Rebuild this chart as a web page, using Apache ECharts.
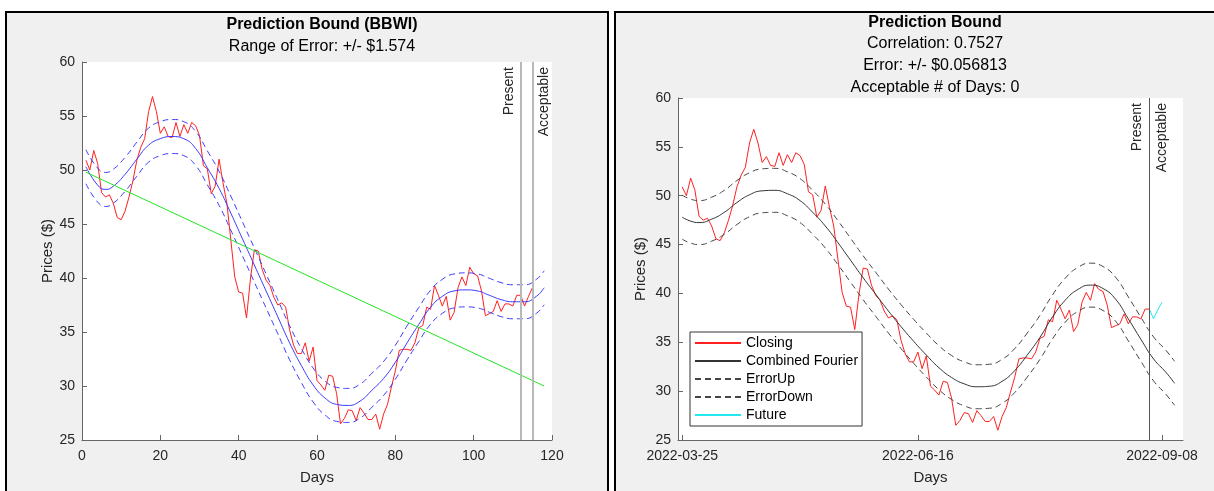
<!doctype html>
<html>
<head>
<meta charset="UTF-8">
<title>Prediction Bound (BBWI)</title>
<script src="https://cdn.jsdelivr.net/npm/echarts@6/dist/echarts.min.js"></script>
<style>
  body { margin: 0; background: #fff; }
  .panel { position: absolute; background: #f0f0f0; border: 2px solid #000; border-bottom: none; }
  #p1 { left: 5px; top: 11px; width: 600px; height: 480px; }
  #p2 { left: 614px; top: 11px; width: 600px; height: 480px; border-right: none; }
  #chart { position: absolute; left: 0; top: 0; width: 1214px; height: 491px; }
</style>
</head>
<body>
<div class="panel" id="p1"></div>
<div class="panel" id="p2"></div>
<div id="chart"></div>
<script>
// closing prices, one per trading day (day 1 .. 115)
var closing = [
  50.9, 50.0, 51.8, 50.6, 47.9, 47.5, 47.7, 46.9, 45.6, 45.4,
  46.2, 47.5, 49.0, 50.9, 52.1, 52.9, 55.4, 56.8, 55.4, 53.4,
  54.0, 53.1, 53.0, 54.4, 53.1, 54.2, 53.4, 54.4, 54.1, 53.2,
  50.4, 50.1, 47.8, 48.5, 51.0, 48.8, 46.9, 43.5, 40.1, 38.7,
  38.6, 36.3, 39.9, 42.6, 42.5, 40.8, 39.8, 39.3, 38.2, 37.5,
  37.7, 37.3, 35.2, 33.8, 33.0, 33.0, 34.0, 32.3, 33.6, 30.5,
  30.1, 29.6, 31.0, 30.9, 29.3, 26.5, 27.0, 27.8, 27.7, 26.8,
  28.0, 27.5, 26.9, 26.9, 27.4, 26.0, 27.4, 28.3, 29.9, 31.4,
  33.3, 33.4, 33.4, 33.3, 34.0, 35.4, 35.6, 37.3, 37.1, 39.3,
  38.4, 37.4, 38.3, 36.1, 36.8, 39.1, 40.1, 39.3, 41.0, 40.4,
  40.2, 38.8, 36.5, 36.7, 36.9, 37.9, 36.9, 37.6, 37.6, 37.4,
  38.4, 38.4, 37.4, 38.3, 39.1
];
var presentDay = 112;
var acceptableDay = 115;

// left panel: Fourier fit
var leftFitDays = [1, 4, 6, 8, 11, 14, 17, 20, 23, 26, 29, 32, 35, 38, 41, 44, 47, 50, 53, 56,
  59, 62, 65, 68, 71, 74, 77, 80, 83, 86, 89, 92, 95, 98, 101, 104, 107, 110, 113, 116, 118];
var leftFit = [50.3, 48.6, 48.2, 48.5, 49.6, 51.0, 52.3, 52.9, 53.1, 52.9, 52.0, 50.2, 48.3, 46.0, 43.6, 41.2, 38.8, 36.4, 34.0, 31.9,
  30.1, 28.9, 28.3, 28.2, 28.6, 29.6, 30.7, 32.2, 34.0, 35.7, 37.3, 38.3, 38.8, 38.9, 38.8, 38.4, 38.0, 37.8, 37.8, 38.3, 39.1];
var leftError = 1.574;
var trendDays = [1, 118];
var trend = [49.8, 30.0];

// right panel: combined Fourier fit
var rightFitDays = [1, 3, 5, 8, 11, 14, 17, 20, 23, 26, 29, 32, 35, 38, 41, 44, 47, 50, 53, 56,
  59, 62, 65, 68, 71, 74, 77, 80, 83, 86, 89, 92, 95, 98, 101, 104, 107, 110, 113, 116, 118];
var rightFit = [47.8, 47.4, 47.25, 47.6, 48.3, 49.3, 50.1, 50.5, 50.55, 50.2, 49.5, 48.3, 46.9, 45.2, 43.4, 41.6, 39.9, 38.2, 36.6, 35.1,
  33.7, 32.4, 31.4, 30.75, 30.45, 30.5, 31.0, 32.1, 33.7, 35.5, 37.6, 39.3, 40.4, 40.85, 40.5, 39.4, 37.4, 35.3, 33.3, 31.9, 30.8];
var rightBand = 2.25;
var dateTickDays = [1, 57, 115];
var dateTickLabels = ['2022-03-25', '2022-06-16', '2022-09-08'];

function pairs(xs, ys, shift) {
  var out = [];
  for (var i = 0; i < xs.length; i++) out.push([xs[i], ys[i] + (shift || 0)]);
  return out;
}
var closingPts = closing.map(function (v, i) { return [i + 1, v]; });

var font = 'Liberation Sans, Arial, sans-serif';
var ink = '#262626';

function yAxis(idx, gap) {
  return {
    gridIndex: idx, type: 'value', min: 25, max: 60, interval: 5,
    name: 'Prices ($)', nameLocation: 'middle', nameGap: gap,
    nameTextStyle: { color: ink, fontSize: 15, fontFamily: font },
    axisLine: { show: true, lineStyle: { color: '#666' } },
    axisTick: { show: true, inside: true, length: 5, lineStyle: { color: '#666' } },
    axisLabel: { color: ink, fontSize: 14, fontFamily: font, margin: 7 },
    splitLine: { show: false }
  };
}

var option = {
  animation: false,
  textStyle: { fontFamily: font },
  title: [{
    text: 'Prediction Bound (BBWI)', subtext: 'Range of Error: +/- $1.574',
    left: 317, textAlign: 'center', top: 12, itemGap: 6,
    textStyle: { fontSize: 16, fontWeight: 'bold', color: '#000', fontFamily: font },
    subtextStyle: { fontSize: 16, color: '#000', fontFamily: font }
  }, {
    text: 'Prediction Bound',
    subtext: 'Correlation: 0.7527\nError: +/- $0.056813\nAcceptable # of Days: 0',
    left: 930, textAlign: 'center', top: 10, itemGap: 2,
    textStyle: { fontSize: 16, fontWeight: 'bold', color: '#000', fontFamily: font },
    subtextStyle: { fontSize: 16, color: '#000', fontFamily: font, lineHeight: 22 }
  }],
  legend: {
    data: ['Closing', 'Combined Fourier', 'ErrorUp', 'ErrorDown', 'Future'],
    orient: 'vertical', left: 690, top: 332,
    itemWidth: 46, itemHeight: 13, itemGap: 4, padding: [4, 4, 4, 4],
    backgroundColor: '#fff', borderColor: '#333', borderWidth: 1,
    itemStyle: { opacity: 0 },
    textStyle: { fontSize: 14, color: '#000', fontFamily: font, lineHeight: 14 }
  },
  grid: [
    { left: 82, top: 62, width: 470, height: 378, show: true, backgroundColor: '#fff', borderWidth: 0 },
    { left: 678, top: 98, width: 505, height: 342, show: true, backgroundColor: '#fff', borderWidth: 0 }
  ],
  xAxis: [{
    gridIndex: 0, type: 'value', min: 0, max: 120, interval: 20,
    name: 'Days', nameLocation: 'middle', nameGap: 30,
    nameTextStyle: { color: ink, fontSize: 15, fontFamily: font },
    axisLine: { lineStyle: { color: '#666' } },
    axisTick: { inside: true, length: 5, lineStyle: { color: '#666' } },
    axisLabel: { color: ink, fontSize: 14, fontFamily: font, margin: 9 },
    splitLine: { show: false }
  }, {
    gridIndex: 1, type: 'value', min: 0, max: 120,
    name: 'Days', nameLocation: 'middle', nameGap: 30,
    nameTextStyle: { color: ink, fontSize: 15, fontFamily: font },
    axisLine: { lineStyle: { color: '#666' } },
    axisTick: { inside: true, length: 5, customValues: dateTickDays, lineStyle: { color: '#666' } },
    axisLabel: {
      color: ink, fontSize: 14, fontFamily: font, margin: 9, customValues: dateTickDays,
      formatter: function (v) { return dateTickLabels[dateTickDays.indexOf(v)]; }
    },
    splitLine: { show: false }
  }],
  yAxis: [yAxis(0, 27), yAxis(1, 30)],
  series: [
    {
      name: 'Closing L', type: 'line', xAxisIndex: 0, yAxisIndex: 0, data: closingPts,
      symbol: 'none', lineStyle: { color: '#ff2020', width: 1 },
      markLine: {
        silent: true, symbol: 'none',
        lineStyle: { color: '#b8b8b8', width: 2, type: 'solid' },
        label: { color: ink, fontSize: 14, fontFamily: font },
        data: [
          { xAxis: presentDay, label: { formatter: 'Present', position: 'insideEndTop' } },
          { xAxis: acceptableDay, label: { formatter: 'Acceptable', position: 'insideEndBottom' } }
        ]
      }
    },
    { name: 'Fourier L', type: 'line', xAxisIndex: 0, yAxisIndex: 0, data: pairs(leftFitDays, leftFit),
      smooth: true, symbol: 'none', lineStyle: { color: '#3a3aff', width: 1 } },
    { name: 'Up L', type: 'line', xAxisIndex: 0, yAxisIndex: 0, data: pairs(leftFitDays, leftFit, leftError),
      smooth: true, symbol: 'none', lineStyle: { color: '#3a3aff', width: 1, type: [6, 4] } },
    { name: 'Down L', type: 'line', xAxisIndex: 0, yAxisIndex: 0, data: pairs(leftFitDays, leftFit, -leftError),
      smooth: true, symbol: 'none', lineStyle: { color: '#3a3aff', width: 1, type: [6, 4] } },
    { name: 'Trend', type: 'line', xAxisIndex: 0, yAxisIndex: 0, data: pairs(trendDays, trend),
      symbol: 'none', lineStyle: { color: '#22e622', width: 1 } },

    {
      name: 'Closing', type: 'line', xAxisIndex: 1, yAxisIndex: 1, data: closingPts.slice(0, presentDay),
      symbol: 'none', lineStyle: { color: '#ff2020', width: 1 }, itemStyle: { color: '#ff2020' },
      markLine: {
        silent: true, symbol: 'none',
        lineStyle: { color: '#555', width: 1, type: 'solid' },
        label: { color: ink, fontSize: 14, fontFamily: font },
        data: [
          { xAxis: presentDay, label: { formatter: 'Present', position: 'insideEndTop' } },
          { xAxis: acceptableDay, lineStyle: { color: 'rgba(0,0,0,0)' },
            label: { formatter: 'Acceptable', position: 'insideEnd', color: ink } }
        ]
      }
    },
    { name: 'Combined Fourier', type: 'line', xAxisIndex: 1, yAxisIndex: 1, data: pairs(rightFitDays, rightFit),
      smooth: true, symbol: 'none', lineStyle: { color: '#333', width: 1 }, itemStyle: { color: '#333' } },
    { name: 'ErrorUp', type: 'line', xAxisIndex: 1, yAxisIndex: 1, data: pairs(rightFitDays, rightFit, rightBand),
      smooth: true, symbol: 'none', lineStyle: { color: '#444', width: 1, type: [6, 4] }, itemStyle: { color: '#444' } },
    { name: 'ErrorDown', type: 'line', xAxisIndex: 1, yAxisIndex: 1, data: pairs(rightFitDays, rightFit, -rightBand),
      smooth: true, symbol: 'none', lineStyle: { color: '#444', width: 1, type: [6, 4] }, itemStyle: { color: '#444' } },
    { name: 'Future', type: 'line', xAxisIndex: 1, yAxisIndex: 1, data: closingPts.slice(presentDay - 1),
      symbol: 'none', lineStyle: { color: '#22e8f0', width: 1 }, itemStyle: { color: '#22e8f0' } }
  ]
};

var myChart = echarts.init(document.getElementById('chart'), null, { renderer: 'canvas' });
myChart.setOption(option);
</script>
</body>
</html>
